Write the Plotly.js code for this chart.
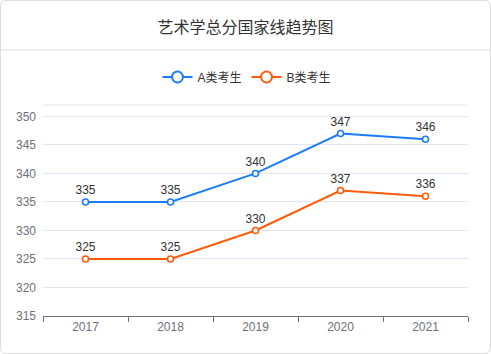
<!DOCTYPE html>
<html>
<head>
<meta charset="utf-8">
<script src="https://cdn.plot.ly/plotly-3.0.1.min.js"></script>
<style>
html,body{margin:0;padding:0;background:#fff;}
#card{position:absolute;left:0;top:0;width:489px;height:352px;border:1px solid #dcdcdc;border-radius:6px;overflow:hidden;background:#fff;}
#chart{width:489px;height:352px;}
</style>
</head>
<body>
<div id="card"><div id="chart"></div></div>
<script>
const years = ['2017', '2018', '2019', '2020', '2021'];
const seriesA = [335, 335, 340, 347, 346];
const seriesB = [325, 325, 330, 337, 336];
const nameA = 'A类考生';
const nameB = 'B类考生';
const titleText = '艺术学总分国家线趋势图';

const font = 'Helvetica, Arial, "Liberation Sans", "Noto Sans CJK SC", sans-serif';
const blue = '#1a7cfb';
const orange = '#ff5b0a';

function mk(name, vals, color) {
  return {
    type: 'scatter', mode: 'lines+markers+text', name: name, legendgroup: name, showlegend: false,
    x: years, y: vals,
    text: vals.map(String), textposition: 'top center',
    textfont: {family: font, size: 12, color: '#333'},
    line: {color: color, width: 2},
    marker: {symbol: 'circle', size: 6, color: '#fff', line: {color: color, width: 1.6}},
    cliponaxis: false, hoverinfo: 'x+y'
  };
}
// legend entry for a series (larger hollow circle, as in the reference legend)
function legendEntry(name, color) {
  return {
    type: 'scatter', mode: 'lines+markers', name: name, legendgroup: name, showlegend: true,
    x: [null], y: [null],
    line: {color: color, width: 2},
    marker: {symbol: 'circle', size: 11, color: '#fff', line: {color: color, width: 2}},
    hoverinfo: 'skip'
  };
}

const L = 42, R = 22, T = 104, B = 37, W = 489, H = 352;
const pw = W - L - R, ph = H - T - B;
const py = v => (H - B - v) / ph; // div y -> paper y
const px = v => (v - L) / pw;     // div x -> paper x

const layout = {
  width: W, height: H,
  margin: {l: L, r: R, t: T, b: B},
  paper_bgcolor: 'rgba(0,0,0,0)', plot_bgcolor: 'rgba(0,0,0,0)',
  font: {family: font, size: 12, color: '#6e7079'},
  title: {text: titleText, font: {family: font, size: 16, color: '#333'},
          x: 0.5, xanchor: 'center', y: 1 - 26 / H, yanchor: 'middle', yref: 'container'},
  showlegend: true,
  legend: {orientation: 'h', x: px(246), xanchor: 'center', y: py(76), yanchor: 'middle',
           font: {family: font, size: 12, color: '#333'}, itemwidth: 30,
           bgcolor: 'rgba(0,0,0,0)'},
  xaxis: {type: 'category', range: [-0.5, 4.5], tickson: 'boundaries', ticks: 'outside', ticklen: 5,
          tickcolor: '#6e7079', showline: true, linecolor: '#6e7079', linewidth: 1,
          showgrid: false, zeroline: false, fixedrange: true,
          tickfont: {family: font, size: 12, color: '#6e7079'}},
  yaxis: {range: [315, 352], dtick: 5, tick0: 315, showgrid: true, gridcolor: '#e0e6f1', gridwidth: 1,
          zeroline: false, showline: false, ticks: '', ticklabelstandoff: 6, fixedrange: true,
          tickfont: {family: font, size: 12, color: '#6e7079'}},
  shapes: [
    {type: 'line', xref: 'paper', yref: 'paper', x0: -L / pw, x1: (W - L) / pw, y0: py(49), y1: py(49),
     line: {color: '#dcdcdc', width: 1}},
    {type: 'line', xref: 'paper', yref: 'paper', x0: 0, x1: 1, y0: 1, y1: 1,
     line: {color: '#e0e6f1', width: 1}, layer: 'below'}
  ]
};

Plotly.newPlot('chart', [
  mk(nameA, seriesA, blue), mk(nameB, seriesB, orange),
  legendEntry(nameA, blue), legendEntry(nameB, orange)
], layout, {displayModeBar: false, staticPlot: true});
</script>
</body>
</html>
